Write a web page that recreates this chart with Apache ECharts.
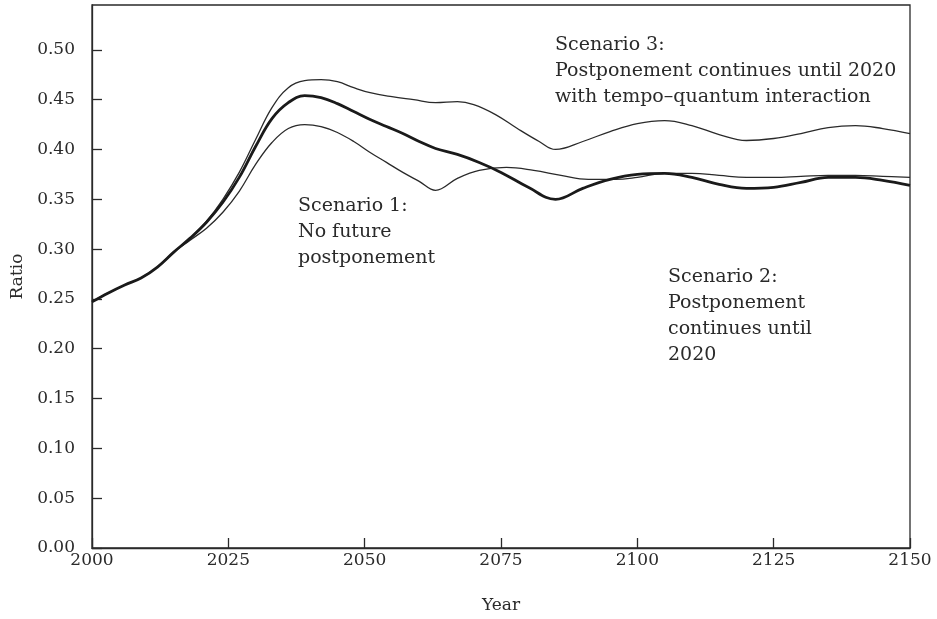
<!DOCTYPE html>
<html><head><meta charset="utf-8">
<script src="https://cdn.jsdelivr.net/npm/echarts@6/dist/echarts.min.js"></script>
<style>html,body{margin:0;padding:0;background:#fff}#c{width:937px;height:619px}</style>
</head><body><div id="c"></div>
<script>
const xTicks = [2000, 2025, 2050, 2075, 2100, 2125, 2150];
const yTicks = ['0.00','0.05','0.10','0.15','0.20','0.25','0.30','0.35','0.40','0.45','0.50'];

const yearsS2 = [2000,2003,2006,2009,2012,2015,2018,2021,2024,2027,2030,2033,2036,2039,2042,2045,2048,2051,2054,2057,2060,2063,2067,2071,2075,2080,2085,2090,2095,2100,2105,2110,2115,2120,2125,2130,2135,2140,2145,2150];
const valsS2  = [0.247,0.256,0.264,0.271,0.282,0.297,0.311,0.327,0.347,0.372,0.403,0.431,0.447,0.454,0.452,0.446,0.438,0.430,0.423,0.416,0.408,0.401,0.395,0.387,0.377,0.362,0.350,0.361,0.370,0.375,0.376,0.372,0.365,0.361,0.362,0.367,0.372,0.372,0.369,0.364];

const yearsS3 = [2000,2003,2006,2009,2012,2015,2018,2021,2024,2027,2030,2033,2036,2039,2042,2045,2048,2051,2055,2059,2063,2067,2070,2074,2078,2082,2085,2090,2095,2100,2105,2110,2115,2120,2125,2130,2135,2140,2145,2150];
const valsS3  = [0.247,0.256,0.264,0.271,0.282,0.297,0.311,0.328,0.350,0.377,0.410,0.442,0.462,0.469,0.470,0.468,0.462,0.457,0.453,0.450,0.447,0.448,0.445,0.435,0.421,0.408,0.400,0.408,0.418,0.426,0.429,0.424,0.415,0.409,0.411,0.416,0.422,0.424,0.421,0.416];

const yearsS1 = [2000,2003,2006,2009,2012,2015,2018,2021,2024,2027,2030,2033,2036,2039,2042,2045,2048,2051,2054,2057,2060,2063,2067,2071,2076,2081,2086,2091,2096,2100,2105,2110,2115,2120,2125,2130,2135,2140,2145,2150];
const valsS1  = [0.247,0.256,0.264,0.271,0.282,0.297,0.309,0.321,0.337,0.358,0.385,0.407,0.421,0.425,0.423,0.417,0.408,0.397,0.387,0.377,0.368,0.359,0.371,0.379,0.382,0.379,0.374,0.370,0.370,0.372,0.376,0.376,0.374,0.372,0.372,0.373,0.374,0.374,0.373,0.372];

const annS3 = ['Scenario 3:', 'Postponement continues until 2020', 'with tempo\u2013quantum interaction'];
const annS1 = ['Scenario 1:', 'No future', 'postponement'];
const annS2 = ['Scenario 2:', 'Postponement', 'continues until', '2020'];

const zip = (xs, ys) => xs.map((x, i) => [x, ys[i]]);
const FONT = 'DejaVu Serif';
const INK = '#2a2a2a';

const chart = echarts.init(document.getElementById('c'), null, {renderer: 'canvas'});

function ann(lines, left, top) {
  return {
    type: 'text', left: left, top: top, silent: true,
    style: {text: lines.join('\n'), font: '19px "' + FONT + '"', fill: INK, lineHeight: 26}
  };
}

chart.setOption({
  animation: false,
  backgroundColor: '#fff',
  grid: {left: 92, right: 27, top: 5, bottom: 70, show: true, borderColor: INK, borderWidth: 1.3, backgroundColor: 'transparent'},
  xAxis: {
    type: 'value', min: 2000, max: 2150, interval: 25,
    name: 'Year', nameLocation: 'middle', nameGap: 49,
    nameTextStyle: {fontFamily: FONT, fontSize: 17, color: INK},
    axisLine: {lineStyle: {color: INK, width: 1.3}},
    axisTick: {inside: true, length: 10, lineStyle: {color: INK, width: 1.3}},
    axisLabel: {fontFamily: FONT, fontSize: 17, color: INK, margin: 4, formatter: v => String(v)},
    splitLine: {show: false}
  },
  yAxis: {
    type: 'value', min: 0, max: 0.545, interval: 0.05,
    name: 'Ratio', nameLocation: 'middle', nameGap: 66, nameRotate: 90,
    nameTextStyle: {fontFamily: FONT, fontSize: 17, color: INK},
    axisLine: {show: true, lineStyle: {color: INK, width: 1.3}},
    axisTick: {inside: true, length: 10, lineStyle: {color: INK, width: 1.3}},
    axisLabel: {fontFamily: FONT, fontSize: 17, color: INK, margin: 17, showMaxLabel: false,
      formatter: v => { const s = v.toFixed(2); return yTicks.indexOf(s) >= 0 ? s : ''; }},
    splitLine: {show: false}
  },
  series: [
    {type: 'line', name: 'Scenario 1', data: zip(yearsS1, valsS1), showSymbol: false, smooth: 0.4,
      lineStyle: {color: INK, width: 1.3}},
    {type: 'line', name: 'Scenario 3', data: zip(yearsS3, valsS3), showSymbol: false, smooth: 0.4,
      lineStyle: {color: INK, width: 1.3}},
    {type: 'line', name: 'Scenario 2', data: zip(yearsS2, valsS2), showSymbol: false, smooth: 0.4,
      lineStyle: {color: '#1a1a1a', width: 2.8}}
  ],
  graphic: [
    ann(annS3, 555, 32),
    ann(annS1, 298, 193),
    ann(annS2, 668, 264)
  ]
});
</script></body></html>
